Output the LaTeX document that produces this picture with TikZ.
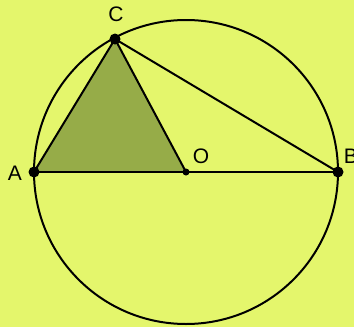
\documentclass[tikz,border=0pt]{standalone}
\usepackage{fontspec}
\setmainfont{Liberation Sans}
\definecolor{bg}{RGB}{228,246,108}
\definecolor{tri}{RGB}{150,172,72}
\begin{document}
\begin{tikzpicture}[x=1pt,y=-1pt,
  edge/.style={line width=2pt,black},
  dot/.style={circle,fill=black,inner sep=0pt,minimum size=11pt},
  smalldot/.style={circle,fill=black,inner sep=0pt,minimum size=7pt},
  lbl/.style={font=\fontsize{21}{21}\selectfont,inner sep=0pt}]
\fill[bg] (0,0) rectangle (354,327);
\useasboundingbox (0,0) rectangle (354,327);
\coordinate (O) at (186,172);
\coordinate (A) at (34,172);
\coordinate (B) at (338,172);
\coordinate (C) at (115,39);
\fill[tri] (A) -- (C) -- (O) -- cycle;
\draw[edge] (O) circle (152);
\draw[edge] (A) -- (C) -- (O);
\draw[edge] (C) -- (B);
\draw[edge] (A) -- (B);
\node[dot] (nA) at (A) {};
\node[dot] (nB) at (B) {};
\node[dot] (nC) at (C) {};
\node[smalldot] (nO) at (O) {};
\node[lbl] (lA) at (15,173) {A};
\node[lbl] (lC) at (116,14) {C};
\node[lbl] (lO) at (201,156) {O};
\node[lbl] (lB) at (351,156) {B};
\end{tikzpicture}
\end{document}
